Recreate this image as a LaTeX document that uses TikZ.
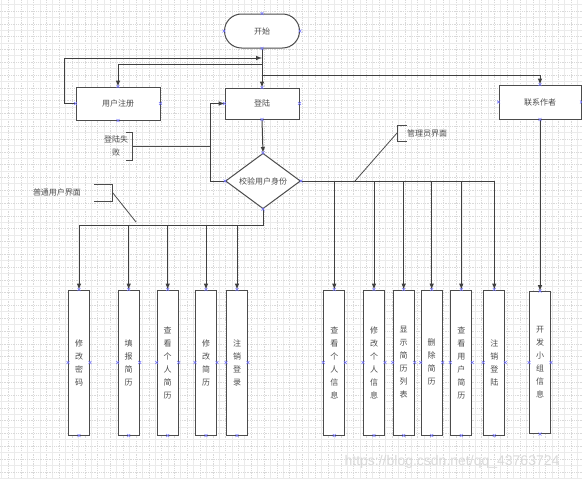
\documentclass[tikz,border=0pt]{standalone}
\usepackage{fontspec}
\setsansfont{Liberation Sans}
\newfontfamily\cjk{Noto Sans CJK SC}
\usetikzlibrary{shapes.geometric,arrows}

\tikzset{
  flow/.style={draw=black!75, line width=1pt},
  note/.style={draw=black!70, line width=0.8pt},
  stepbox/.style={draw=black!70, line width=1pt, fill=white, inner sep=0pt,
    text=black!70, font=\cjk\fontsize{8}{10}\selectfont},
  funcbox/.style={stepbox, minimum width=21pt, minimum height=145pt,
    align=center, font=\cjk\fontsize{8}{13}\selectfont},
  cpt/.style={draw=blue!55, line width=0.6pt},
  gridmajor/.style={draw=gray!16, line width=0.5pt},
  gridminor/.style={draw=gray!30, line width=0.4pt, dash pattern=on 0.6pt off 1.2pt},
}
% small blue connection marks on a node
\newcommand{\conmarks}[1]{%
  \foreach \a in {north,south,east,west}
    {\draw[cpt] (#1.\a) ++(-1.5,-1.5) -- ++(3,3) ++(-3,0) -- ++(3,-3);}}

\begin{document}
\begin{tikzpicture}[x=1pt,y=-1pt,>=latex]
  \useasboundingbox (0,0) rectangle (582,479);

  % background grid
  \foreach \i in {0,...,45} {
    \draw[gridmajor] ({1.5+12.8*\i},0) -- ({1.5+12.8*\i},479);
    \draw[gridminor] ({7.9+12.8*\i},0) -- ({7.9+12.8*\i},479);
  }
  \foreach \i in {0,...,37} {
    \draw[gridmajor] (0,{4.5+12.8*\i}) -- (582,{4.5+12.8*\i});
    \draw[gridminor] (0,{10.9+12.8*\i}) -- (582,{10.9+12.8*\i});
  }

  % watermark
  \node[text=gray!30, font=\sffamily\fontsize{14}{14}\selectfont] (mark) at (452,462) {https://blog.csdn.net/qq\_43763724};

  % top row
  \node[stepbox, rounded corners=17pt, minimum width=75pt, minimum height=34pt] (start) at (262,31) {开始};
  \node[stepbox, minimum width=74pt, minimum height=31pt] (login) at (262,103.5) {登陆};
  \node[stepbox, minimum width=84pt, minimum height=33pt] (reg) at (118,103.5) {用户注册};
  \node[stepbox, minimum width=82pt, minimum height=34pt] (contact) at (540,102) {联系作者};

  % check
  \node[stepbox, diamond, minimum width=75pt, minimum height=50pt] (check) at (263,181) {校验用户身份};

  % user functions
  \node[funcbox] (u1) at (79,362.5) {修\\改\\密\\码};
  \node[funcbox] (u2) at (128.7,362.5) {填\\报\\简\\历};
  \node[funcbox] (u3) at (167.7,362.5) {查\\看\\个\\人\\简\\历};
  \node[funcbox] (u4) at (206,362.5) {修\\改\\简\\历};
  \node[funcbox] (u5) at (237,362.5) {注\\销\\登\\录};

  % admin functions
  \node[funcbox] (a1) at (334.3,362.5) {查\\看\\个\\人\\信\\息};
  \node[funcbox] (a2) at (374,362.5) {修\\改\\个\\人\\信\\息};
  \node[funcbox] (a3) at (403.7,362.5) {显\\示\\简\\历\\列\\表};
  \node[funcbox] (a4) at (431.7,362.5) {删\\除\\简\\历};
  \node[funcbox] (a5) at (461.3,362.5) {查\\看\\用\\户\\简\\历};
  \node[funcbox] (a6) at (494.3,362.5) {注\\销\\登\\陆};

  % team info
  \node[funcbox, minimum height=142pt] (dev) at (540,362.5) {开\\发\\小\\组\\信\\息};

  % start -> login, register, contact
  \coordinate (j1) at (262,58);
  \coordinate (j2) at (262,64);
  \coordinate (j3) at (262,75);
  \draw[flow,->] (start.south) -- (login.north);
  \draw[flow,->] (reg.west) -- ++(-11,0) |- (j1);
  \draw[flow,->] (j2) -| (reg.north);
  \draw[flow,->] (j3) -| (contact.north);

  % login -> check, failure loop
  \draw[flow,->] (login.south) -- (check.north);
  \draw[flow,->] (check.west) -- ++(-15,0) coordinate (lp) |- (login.west);

  % user branch
  \draw[flow,->] (check.south) -- ++(0,16) coordinate (busL) -| (u1.north);
  \foreach \n in {u2,u3,u4,u5}
    \draw[flow,->] (busL -| \n.north) -- (\n.north);

  % admin branch
  \draw[flow,->] (check.east) -| (a6.north);
  \foreach \n in {a1,a2,a3,a4,a5}
    \draw[flow,->] (check.east -| \n.north) -- (\n.north);

  % contact -> team info
  \draw[flow,->] (contact.south) -- (dev.north);

  % notes
  \node[text=black!70, font=\cjk\fontsize{8}{13}\selectfont, align=center] (failtxt) at (116,146) {登陆失\\败};
  \coordinate (fb) at (132,146);
  \draw[note] (126,132) -- (132,132) -- (132,160) -- (126,160);
  \draw[note] (fb) -- (fb -| lp);

  \node[text=black!70, font=\cjk\fontsize{8}{10}\selectfont] (usertxt) at (57,192.5) {普通用户界面};
  \draw[note] (94,184) -- (112.5,184) -- (112.5,201) -- (94,201);
  \draw[note] (112.5,192.5) -- (136,222);

  \node[text=black!70, font=\cjk\fontsize{8}{10}\selectfont] (admtxt) at (427,133) {管理员界面};
  \draw[note] (406.5,125.5) -- (397,125.5) -- (397,141) -- (406.5,141);
  \draw[note] (397,133) -- (355,181);

  % connection marks
  \foreach \n in {start,login,reg,contact,check,u1,u2,u3,u4,u5,a1,a2,a3,a4,a5,a6,dev}
    {\conmarks{\n}}
\end{tikzpicture}
\end{document}
